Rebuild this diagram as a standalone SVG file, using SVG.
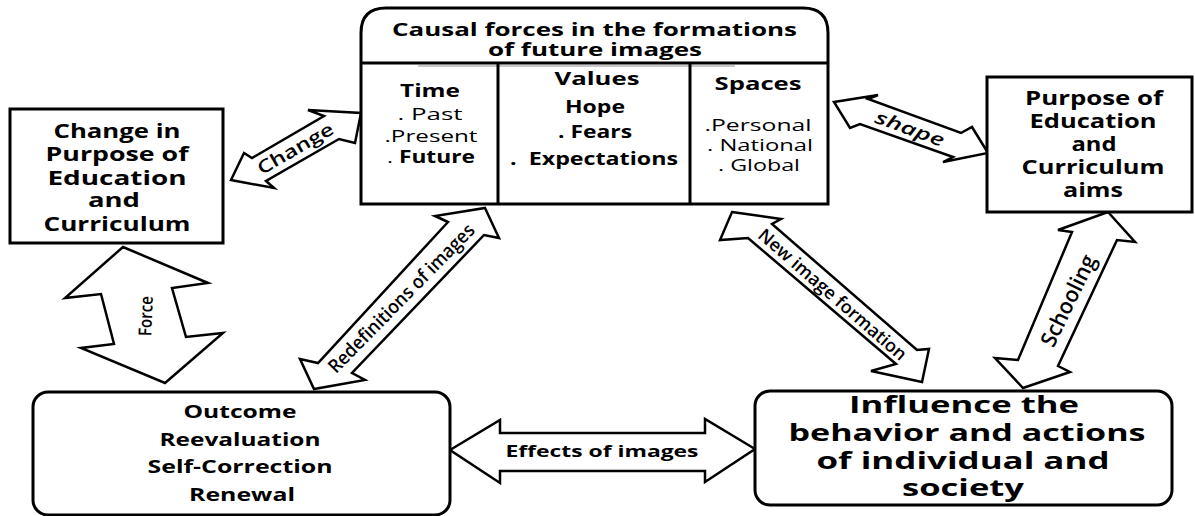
<svg xmlns="http://www.w3.org/2000/svg" width="1195" height="516" viewBox="0 0 1195 516">
  <style>
    .box { fill: #fff; stroke: #000; stroke-width: 3; }
    .div { fill: none; stroke: #000; stroke-width: 3; }
    .arrow { fill: #fff; stroke: #000; stroke-width: 2.5; stroke-linejoin: miter; }
    .t { font-family: "Open Sans", "DejaVu Sans", sans-serif; fill: #000; text-anchor: middle; }
    .b { font-weight: 700; }
    .lbl { font-family: "Open Sans", "DejaVu Sans", sans-serif; font-weight: 600; fill: #000; text-anchor: middle; dominant-baseline: central; }
  </style>
  <rect width="1195" height="516" fill="#fff"/>

  <!-- connectors: block double arrows with their labels -->
  <g id="connectors">
    <!-- Change -->
    <polygon class="arrow" points="231,180 244,153 252,158 324,116 308,110 361,113 355,143 339,139 266,181 274,188"/>
    <text class="lbl" font-size="18" textLength="85" lengthAdjust="spacingAndGlyphs" transform="translate(295,148) rotate(-30)">Change</text>

    <!-- shape -->
    <polygon class="arrow" points="834,102 878,95 868,99 961,133 972,127 988,153 943,162 953,157 860,124 850,128"/>
    <text class="lbl" font-size="18" font-style="italic" textLength="72" lengthAdjust="spacingAndGlyphs" transform="translate(910,128) rotate(20)">shape</text>

    <!-- Force -->
    <polygon class="arrow" points="123,247 208,283 172,288 186,337 223,333 165,383 81,348 114,344 101,294 65,298"/>
    <text class="lbl" font-size="18" font-weight="400" textLength="40" lengthAdjust="spacingAndGlyphs" transform="translate(145,316) rotate(-88)">Force</text>

    <!-- Redefinitions of images -->
    <polygon class="arrow" points="485,208 499,238 484,235 352,373 365,380 314,389 300,359 318,363 448,222 435,216"/>
    <text class="lbl" font-size="19" font-weight="400" textLength="200" lengthAdjust="spacingAndGlyphs" transform="translate(401,298) rotate(-45.6)">Redefinitions of images</text>

    <!-- New image formation -->
    <polygon class="arrow" points="732,212 781,219 772,224 917,350 929,349 922,382 871,371 896,364 748,238 720,240"/>
    <text class="lbl" font-size="18" font-weight="400" textLength="190" lengthAdjust="spacingAndGlyphs" transform="translate(833,294) rotate(41)">New image formation</text>

    <!-- Schooling -->
    <polygon class="arrow" points="1108,212 1135,242 1117,240 1058,366 1070,372 1023,388 995,358 1018,360 1072,232 1058,230"/>
    <text class="lbl" font-size="22" font-weight="400" textLength="99" lengthAdjust="spacingAndGlyphs" transform="translate(1067,300) rotate(-64)">Schooling</text>

    <!-- Effects of images -->
    <polygon class="arrow" points="450,450 500,420 500,433 705,433 705,419 755,449 705,482 705,471 500,471 500,483"/>
    <text class="t b" font-size="16" textLength="193" lengthAdjust="spacingAndGlyphs" x="602" y="457">Effects of images</text>
  </g>

  <!-- causal forces table -->
  <g id="node-causal-forces">
    <path class="box" d="M361,204 L361,33 Q361,8 386,8 L803,8 Q828,8 828,33 L828,204 Z"/>
    <path d="M418,66 H735" fill="none" stroke="#c8c8c8" stroke-width="2"/>
    <path class="div" d="M361,63 H828 M498,63 V204 M690,63 V204"/>
    <text class="t b" font-size="18" x="594.5" y="36" textLength="405" lengthAdjust="spacingAndGlyphs">Causal forces in the formations</text>
    <text class="t b" font-size="18" x="595" y="56" textLength="214" lengthAdjust="spacingAndGlyphs">of future images</text>

    <text class="t b" font-size="18" x="430" y="97" textLength="60" lengthAdjust="spacingAndGlyphs">Time</text>
    <text class="t" font-size="17" x="430" y="120" textLength="65" lengthAdjust="spacingAndGlyphs">. Past</text>
    <text class="t" font-size="17" x="431" y="142" textLength="93" lengthAdjust="spacingAndGlyphs">.Present</text>
    <text class="t" font-size="17" x="431" y="163" textLength="88" lengthAdjust="spacingAndGlyphs">. <tspan class="b">Future</tspan></text>

    <text class="t b" font-size="18" x="597" y="85" textLength="85" lengthAdjust="spacingAndGlyphs">Values</text>
    <text class="t b" font-size="17" x="595" y="113" textLength="60" lengthAdjust="spacingAndGlyphs">Hope</text>
    <text class="t b" font-size="17" x="595" y="138" textLength="74" lengthAdjust="spacingAndGlyphs">. Fears</text>
    <text class="t b" font-size="17" x="594" y="165" textLength="168" lengthAdjust="spacingAndGlyphs" xml:space="preserve">.  Expectations</text>

    <text class="t b" font-size="18" x="758" y="90" textLength="87" lengthAdjust="spacingAndGlyphs">Spaces</text>
    <text class="t" font-size="17" x="758" y="131" textLength="107" lengthAdjust="spacingAndGlyphs">.Personal</text>
    <text class="t" font-size="17" x="760" y="151" textLength="106" lengthAdjust="spacingAndGlyphs">. National</text>
    <text class="t" font-size="17" x="759" y="171" textLength="82" lengthAdjust="spacingAndGlyphs">. Global</text>
  </g>

  <!-- change in purpose -->
  <g id="node-change-purpose">
    <rect class="box" x="10" y="109" width="213" height="134"/>
    <text class="t b" font-size="20" x="117" y="138" textLength="127" lengthAdjust="spacingAndGlyphs">Change in</text>
    <text class="t b" font-size="20" x="117" y="161" textLength="143" lengthAdjust="spacingAndGlyphs">Purpose of</text>
    <text class="t b" font-size="20" x="117" y="185" textLength="139" lengthAdjust="spacingAndGlyphs">Education</text>
    <text class="t b" font-size="20" x="114" y="207" textLength="52" lengthAdjust="spacingAndGlyphs">and</text>
    <text class="t b" font-size="20" x="117" y="231" textLength="147" lengthAdjust="spacingAndGlyphs">Curriculum</text>
  </g>

  <!-- purpose of education -->
  <g id="node-purpose-aims">
    <rect class="box" x="987" y="77" width="205" height="135"/>
    <text class="t b" font-size="20" x="1094" y="105" textLength="138" lengthAdjust="spacingAndGlyphs">Purpose of</text>
    <text class="t b" font-size="20" x="1093" y="128" textLength="127" lengthAdjust="spacingAndGlyphs">Education</text>
    <text class="t b" font-size="20" x="1094" y="151" textLength="45" lengthAdjust="spacingAndGlyphs">and</text>
    <text class="t b" font-size="20" x="1093" y="174" textLength="143" lengthAdjust="spacingAndGlyphs">Curriculum</text>
    <text class="t b" font-size="20" x="1093" y="197" textLength="60" lengthAdjust="spacingAndGlyphs">aims</text>
  </g>

  <!-- outcome -->
  <g id="node-outcome">
    <rect class="box" x="33" y="392" width="417" height="123" rx="15"/>
    <text class="t b" font-size="17" x="240" y="418" textLength="113" lengthAdjust="spacingAndGlyphs">Outcome</text>
    <text class="t b" font-size="17" x="240" y="446" textLength="161" lengthAdjust="spacingAndGlyphs">Reevaluation</text>
    <text class="t b" font-size="17" x="240" y="473" textLength="185" lengthAdjust="spacingAndGlyphs">Self-Correction</text>
    <text class="t b" font-size="17" x="242" y="501" textLength="106" lengthAdjust="spacingAndGlyphs">Renewal</text>
  </g>

  <!-- influence -->
  <g id="node-influence">
    <rect class="box" x="755" y="391" width="417" height="114" rx="15"/>
    <text class="t b" font-size="23" x="964" y="413" textLength="230" lengthAdjust="spacingAndGlyphs">Influence the</text>
    <text class="t b" font-size="23" x="967" y="441" textLength="357" lengthAdjust="spacingAndGlyphs">behavior and actions</text>
    <text class="t b" font-size="23" x="963" y="469" textLength="293" lengthAdjust="spacingAndGlyphs">of individual and</text>
    <text class="t b" font-size="23" x="963" y="496" textLength="122" lengthAdjust="spacingAndGlyphs">society</text>
  </g>
</svg>
